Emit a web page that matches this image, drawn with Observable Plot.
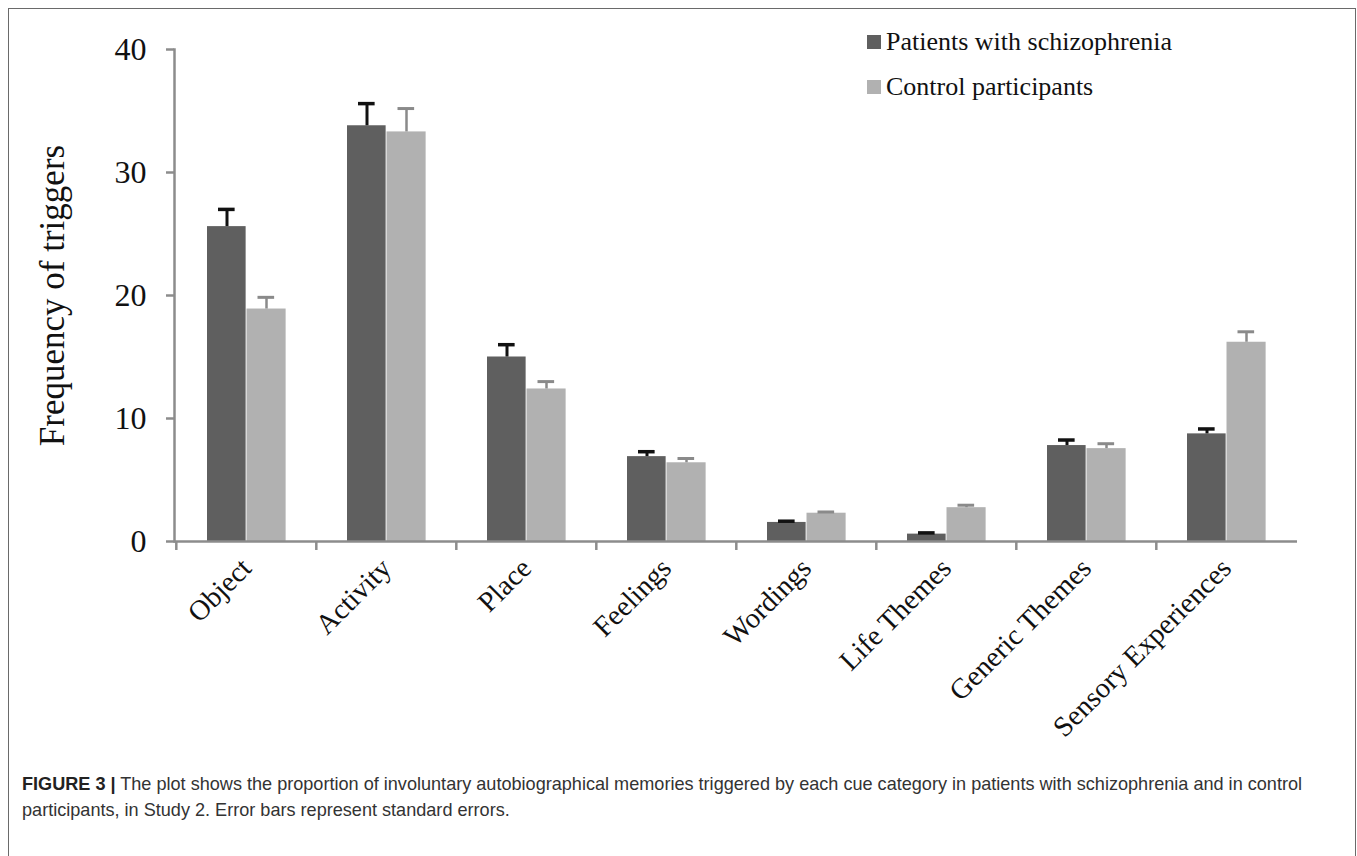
<!DOCTYPE html>
<html>
<head>
<meta charset="utf-8">
<script src="https://cdn.jsdelivr.net/npm/d3@7"></script>
<script src="https://cdn.jsdelivr.net/npm/@observablehq/plot@0.6"></script>
<style>
  html, body { margin: 0; padding: 0; background: #fff; }
  body { width: 1357px; height: 856px; position: relative; overflow: hidden; }
  #frame { position: absolute; left: 8px; top: 8px; width: 1348px; height: 900px;
           border: 1.5px solid #6a6a6a; box-sizing: border-box; }
  #chart { position: absolute; left: 0; top: 0; }
  #legend { position: absolute; left: 867px; top: 19px; font-family: "Liberation Serif", serif;
            font-size: 26px; color: #111; }
  #legend .row { display: flex; align-items: center; height: 45px; }
  #legend .sw { width: 14px; height: 14px; margin-right: 5px; }
  #caption { position: absolute; left: 22px; top: 771px; font-family: "Liberation Sans", Arial, sans-serif;
             font-size: 18.1px; line-height: 26px; color: #333; white-space: nowrap; }
  #caption b { color: #222; }
</style>
</head>
<body>
<div id="frame"></div>
<div id="chart"></div>
<div id="legend"></div>
<div id="caption"><b>FIGURE 3 |</b> The plot shows the proportion of involuntary autobiographical memories triggered by each cue category in patients with schizophrenia and in control<br>participants, in Study 2. Error bars represent standard errors.</div>
<script>
const categories = ["Object", "Activity", "Place", "Feelings", "Wordings", "Life Themes", "Generic Themes", "Sensory Experiences"];
const seriesNames = ["Patients with schizophrenia", "Control participants"];
const patients   = [25.6, 33.8, 15.0, 6.9, 1.55, 0.6, 7.8, 8.75];
const patientsSE = [1.4, 1.8, 1.0, 0.4, 0.1, 0.1, 0.45, 0.4];
const control    = [18.9, 33.3, 12.4, 6.4, 2.3, 2.75, 7.55, 16.2];
const controlSE  = [0.95, 1.9, 0.6, 0.35, 0.1, 0.2, 0.4, 0.85];
const yTicks = [0, 10, 20, 30, 40];

const dark = "#5f5f5f", light = "#b1b1b1", axisGray = "#8c8c8c";

const rows = categories.map((c, i) => ({
  category: c,
  patients: patients[i], patientsHi: patients[i] + patientsSE[i],
  control: control[i], controlHi: control[i] + controlSE[i]
}));

const W = 1357, ML = 174, MR = 60;
const band = (W - ML - MR) / categories.length;

const chart = Plot.plot({
  width: W, height: 720,
  marginLeft: ML, marginRight: MR, marginTop: 49, marginBottom: 179,
  style: { fontFamily: "Liberation Serif", background: "transparent", overflow: "visible", color: "#111" },
  x: { domain: categories, padding: 0, axis: null, label: null },
  y: { domain: [0, 40], axis: null, label: null },
  marks: [
    Plot.barY(rows, { x: "category", y: "patients", fill: dark, insetLeft: 31, insetRight: band - 70 }),
    Plot.barY(rows, { x: "category", y: "control", fill: light, insetLeft: 70.5, insetRight: band - 110 }),
    Plot.ruleX(rows, { x: "category", y1: "patients", y2: "patientsHi", dx: -19.5, stroke: "#111", strokeWidth: 3 }),
    Plot.tickY(rows, { x: "category", y: "patientsHi", insetLeft: 42, insetRight: band - 59, stroke: "#111", strokeWidth: 3.5 }),
    Plot.ruleX(rows, { x: "category", y1: "control", y2: "controlHi", dx: 20, stroke: "#8a8a8a", strokeWidth: 2.5 }),
    Plot.tickY(rows, { x: "category", y: "controlHi", insetLeft: 81.5, insetRight: band - 98.5, stroke: "#8a8a8a", strokeWidth: 3 }),
    Plot.frame({ anchor: "left", stroke: axisGray, strokeWidth: 2.5 }),
    Plot.axisY({ ticks: yTicks, tickSize: 8, tickPadding: 20, fontSize: 32, stroke: axisGray, strokeWidth: 2.5, fill: "#111", label: null }),
    Plot.ruleY([0], { stroke: axisGray, strokeWidth: 2.5 }),
    Plot.axisX({ tickSize: 9, fill: null, stroke: axisGray, strokeWidth: 2.5, dx: -band / 2, label: null }),
    Plot.axisX({ tickSize: 0, tickPadding: 22, tickRotate: -45, fontSize: 28.5, fill: "#111", label: null }),
    Plot.text(["Frequency of triggers"], { frameAnchor: "left", dx: -122, rotate: -90, textAnchor: "middle", fontSize: 35, fill: "#111" })
  ]
});
document.getElementById("chart").appendChild(chart);

const legend = document.getElementById("legend");
seriesNames.forEach((name, i) => {
  const row = document.createElement("div");
  row.className = "row";
  const sw = document.createElement("div");
  sw.className = "sw";
  sw.style.background = i === 0 ? dark : light;
  const t = document.createElement("span");
  t.textContent = name;
  row.appendChild(sw); row.appendChild(t);
  legend.appendChild(row);
});
</script>
</body>
</html>
